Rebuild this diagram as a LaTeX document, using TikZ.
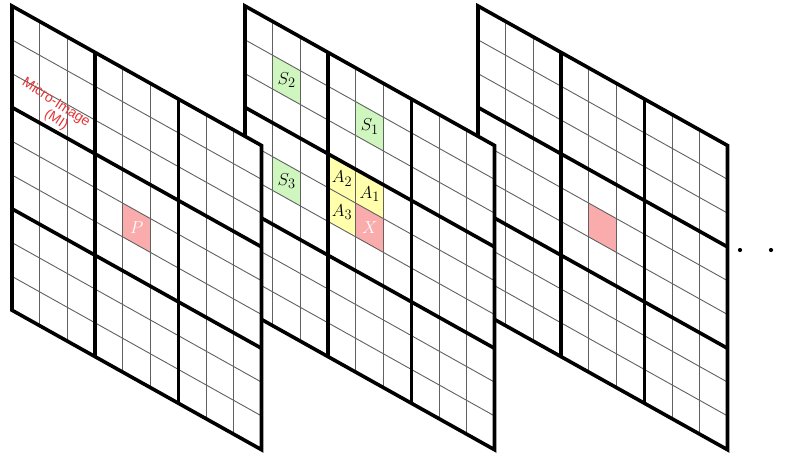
\documentclass[tikz,border=0pt]{standalone}
\usepackage{fontspec}
\newfontfamily\lsans{Liberation Sans}
\definecolor{cgreen}{RGB}{208,246,192}
\definecolor{cyellow}{RGB}{255,255,172}
\definecolor{cpink}{RGB}{250,172,172}
\definecolor{cred}{RGB}{228,52,56}
\tikzset{
  thinline/.style={line width=0.9pt, black!62},
  thickline/.style={line width=3.6pt, black},
  celllabel/.style={inner sep=0pt, font=\fontsize{19}{19}\selectfont},
  whitelabel/.style={inner sep=0pt, text=white, font=\fontsize{18}{18}\selectfont},
  milabel/.style={text=cred, rotate=-33, inner sep=0pt, font=\lsans\fontsize{14}{14}\selectfont},
  dot/.style={circle, fill=black, inner sep=0pt, minimum size=4.2pt},
  panelframe/.style={shift={(#1pt,-6pt)}, x={(27.72pt,-15.5pt)}, y={(0pt,-33.8pt)}}
}
\newcommand\paneloutline{(0,0) -- (9,0) -- (9,9) -- (0,9) -- cycle}
\newcommand\mypanelgrid{%
  \foreach \k in {1,2,4,5,7,8}{
    \draw[thinline] (\k,0) -- (\k,9);
    \draw[thinline] (0,\k) -- (9,\k);
  }
  \foreach \k in {3,6}{
    \draw[thickline] (\k,0) -- (\k,9);
    \draw[thickline] (0,\k) -- (9,\k);
  }
  \draw[thickline] \paneloutline;
}
\newcommand\mycell[3]{\fill[#3] (#1,#2) -- ++(1,0) -- ++(0,1) -- ++(-1,0) -- cycle;}
\begin{document}
\begin{tikzpicture}[x=1pt,y=-1pt]
\useasboundingbox (0,0) rectangle (799,460);
% panel 3 (back)
\begin{scope}[panelframe=478]
  \fill[white] \paneloutline;
  \mycell{4}{4}{cpink}
  \mypanelgrid
\end{scope}
% panel 2 (middle)
\begin{scope}[panelframe=245]
  \fill[white] \paneloutline;
  \mycell{1}{1}{cgreen}
  \mycell{4}{1}{cgreen}
  \mycell{1}{4}{cgreen}
  \mycell{3}{3}{cyellow}
  \mycell{4}{3}{cyellow}
  \mycell{3}{4}{cyellow}
  \mycell{4}{4}{cpink}
  \mypanelgrid
  \node[celllabel] (s2) at (1.5,1.5) {$S_2$};
  \node[celllabel] (s1) at (4.5,1.5) {$S_1$};
  \node[celllabel] (s3) at (1.5,4.5) {$S_3$};
  \node[celllabel] (a2) at (3.5,3.5) {$A_2$};
  \node[celllabel] (a1) at (4.5,3.5) {$A_1$};
  \node[celllabel] (a3) at (3.5,4.5) {$A_3$};
  \node[whitelabel] (x) at (4.5,4.5) {$X$};
\end{scope}
% panel 1 (front)
\begin{scope}[panelframe=12]
  \fill[white] \paneloutline;
  \mycell{4}{4}{cpink}
  \mypanelgrid
  \node[whitelabel] (p) at (4.5,4.5) {$P$};
\end{scope}
\node[milabel] (mi1) at (56,103) {Micro-Image};
\node[milabel] (mi2) at (56,120) {(MI)};
\node[dot] (d1) at (740,250) {};
\node[dot] (d2) at (771,250) {};
\end{tikzpicture}
\end{document}
